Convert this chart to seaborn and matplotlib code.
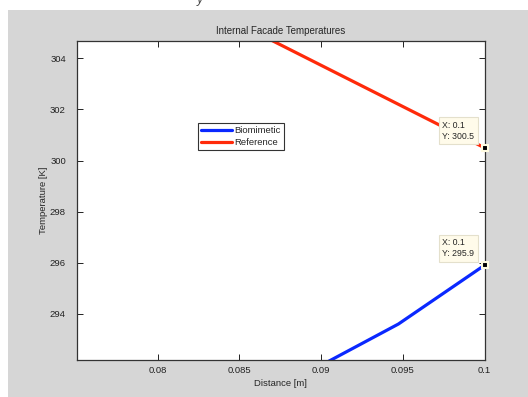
import numpy as np
import pandas as pd
import matplotlib
matplotlib.use("Agg")
import matplotlib.pyplot as plt
import seaborn as sns

# values
distance = [0.084211, 0.089474, 0.094737, 0.1]
biomimetic = [290.1, 291.8, 293.6, 295.9]
reference = [305.6, 303.9, 302.2, 300.5]
x_ticks = [0.08, 0.085, 0.09, 0.095, 0.1]
x_tick_labels = ["0.08", "0.085", "0.09", "0.095", "0.1"]
y_ticks = [294, 296, 298, 300, 302, 304]

df = pd.DataFrame({
    "Distance": distance * 2,
    "Temperature": biomimetic + reference,
    "Case": ["Biomimetic"] * 4 + ["Reference"] * 4,
})

sns.set_theme(style="ticks")
plt.rcParams["font.family"] = ["Liberation Sans", "DejaVu Sans"]

fig = plt.figure(figsize=(5.28, 3.97), dpi=100, facecolor="white")
# matlab grey window background
fig.patches.append(plt.Rectangle((8 / 528, 0), 1, 387 / 397, transform=fig.transFigure,
                                 facecolor="#d6d6d6", edgecolor="none", zorder=-5))
fig.text(197 / 528, 1.0, "y", fontsize=9, style="italic", color="#444444", va="center")

ax = fig.add_axes([77 / 528, 37 / 397, 407.5 / 528, 319 / 397])
ax.set_facecolor("white")

sns.lineplot(data=df, x="Distance", y="Temperature", hue="Case",
             palette={"Biomimetic": "#0a28ff", "Reference": "#ff2a0a"},
             linewidth=2.3, ax=ax, sort=False)

ax.set_xlim(0.07507, 0.1)
ax.set_ylim(292.19, 304.68)
ax.set_xticks(x_ticks)
ax.set_xticklabels(x_tick_labels)
ax.set_yticks(y_ticks)
ax.tick_params(direction="in", length=4, width=0.7, top=True, right=True,
               labelsize=6.8, colors="#222222")
ax.tick_params(axis="y", pad=8)
ax.tick_params(axis="x", pad=4)
for s in ax.spines.values():
    s.set_visible(True)
    s.set_linewidth(0.9)
    s.set_color("#333333")

ax.set_title("Internal Facade Temperatures", fontsize=7, pad=5)
ax.set_xlabel("Distance [m]", fontsize=6.8, labelpad=3)
ax.set_ylabel("Temperature [K]", fontsize=6.8, labelpad=1)

leg = ax.legend(loc="upper left", bbox_to_anchor=(0.297, 0.743),
                fontsize=6.8, frameon=True, fancybox=False, handlelength=3.3,
                handletextpad=0.15, borderpad=0.35, labelspacing=0.3,
                borderaxespad=0)
leg.get_frame().set_edgecolor("black")
leg.get_frame().set_linewidth(0.8)

# data tips
for xv, yv in [(distance[-1], reference[-1]), (distance[-1], biomimetic[-1])]:
    ax.plot([xv], [yv], marker="s", markersize=4.5, mfc="black", mec="#fffbe0",
            mew=1.5, clip_on=False, zorder=5)
    ax.annotate(f"X: {xv:g}\nY: {yv:.1f}", xy=(xv, yv), xytext=(-42, 27),
                textcoords="offset pixels", ha="left", va="top", fontsize=6.3,
                linespacing=1.3,
                bbox=dict(boxstyle="square,pad=0.4", fc="#fffbea", ec="#e4e0cc", lw=0.8),
                zorder=6)

fig.savefig("out.png", dpi=100, facecolor=fig.get_facecolor())
